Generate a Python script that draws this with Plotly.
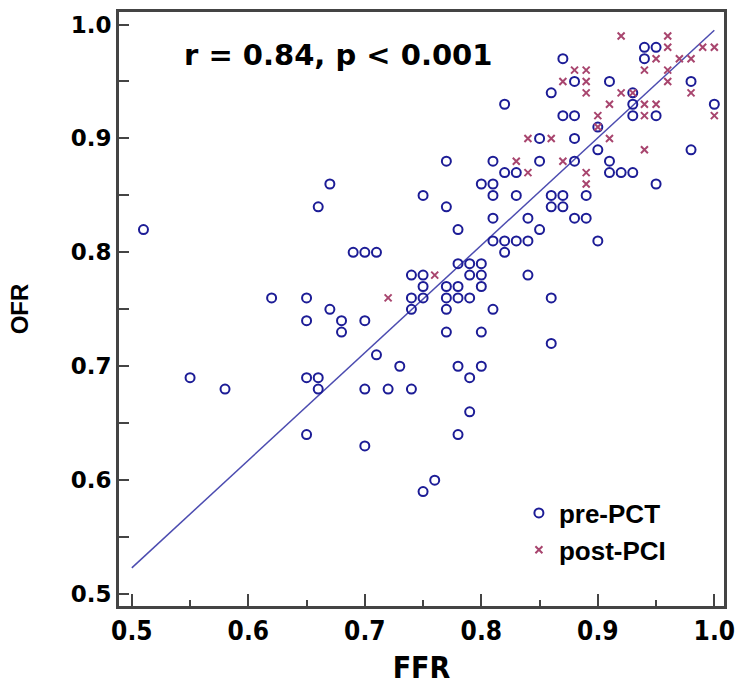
import plotly.graph_objects as go

# pre-PCT (circles)
pre_ffr = [0.51, 0.55, 0.58, 0.62, 0.65, 0.65, 0.65, 0.65, 0.66, 0.66, 0.66, 0.67, 0.67, 0.68, 0.68,
           0.69, 0.70, 0.71, 0.70, 0.70, 0.70, 0.71, 0.72, 0.73, 0.74, 0.74, 0.74, 0.74,
           0.75, 0.75, 0.75, 0.75, 0.75, 0.76, 0.77, 0.77, 0.77, 0.77, 0.77, 0.77,
           0.78, 0.78, 0.78, 0.78, 0.78, 0.78, 0.79, 0.79, 0.79, 0.79, 0.79,
           0.80, 0.80, 0.80, 0.80, 0.80, 0.80, 0.81, 0.81, 0.81, 0.81, 0.81, 0.81,
           0.82, 0.82, 0.82, 0.82, 0.83, 0.83, 0.83, 0.84, 0.84, 0.84, 0.85, 0.85, 0.85,
           0.86, 0.86, 0.86, 0.86, 0.86, 0.87, 0.87, 0.87, 0.87, 0.88, 0.88, 0.88, 0.88, 0.88,
           0.89, 0.89, 0.90, 0.90, 0.90, 0.91, 0.91, 0.91, 0.92, 0.93, 0.93, 0.93, 0.93,
           0.94, 0.94, 0.95, 0.95, 0.95, 0.98, 0.98, 1.00]
pre_ofr = [0.82, 0.69, 0.68, 0.76, 0.76, 0.74, 0.69, 0.64, 0.84, 0.69, 0.68, 0.86, 0.75, 0.74, 0.73,
           0.80, 0.80, 0.80, 0.74, 0.68, 0.63, 0.71, 0.68, 0.70, 0.78, 0.76, 0.75, 0.68,
           0.85, 0.78, 0.77, 0.76, 0.59, 0.60, 0.88, 0.84, 0.77, 0.76, 0.75, 0.73,
           0.82, 0.79, 0.77, 0.76, 0.70, 0.64, 0.79, 0.78, 0.76, 0.69, 0.66,
           0.86, 0.79, 0.78, 0.77, 0.73, 0.70, 0.88, 0.86, 0.85, 0.83, 0.81, 0.75,
           0.93, 0.87, 0.81, 0.80, 0.87, 0.85, 0.81, 0.83, 0.81, 0.78, 0.90, 0.88, 0.82,
           0.94, 0.85, 0.84, 0.76, 0.72, 0.97, 0.92, 0.85, 0.84, 0.95, 0.92, 0.90, 0.88, 0.83,
           0.85, 0.83, 0.91, 0.89, 0.81, 0.95, 0.88, 0.87, 0.87, 0.94, 0.93, 0.92, 0.87,
           0.98, 0.97, 0.98, 0.92, 0.86, 0.95, 0.89, 0.93]

# post-PCI (crosses)
post_ffr = [0.72, 0.76, 0.83, 0.84, 0.84, 0.86, 0.87, 0.87, 0.88, 0.89, 0.89, 0.89, 0.89, 0.89,
            0.90, 0.90, 0.91, 0.91, 0.92, 0.92, 0.93, 0.94, 0.94, 0.94, 0.94, 0.95, 0.95,
            0.96, 0.96, 0.96, 0.96, 0.97, 0.98, 0.98, 0.99, 1.00, 1.00]
post_ofr = [0.76, 0.78, 0.88, 0.90, 0.87, 0.90, 0.95, 0.88, 0.96, 0.96, 0.95, 0.94, 0.87, 0.86,
            0.92, 0.91, 0.93, 0.90, 0.99, 0.94, 0.94, 0.96, 0.93, 0.92, 0.89, 0.97, 0.93,
            0.99, 0.98, 0.96, 0.95, 0.97, 0.97, 0.94, 0.98, 0.98, 0.92]

# regression line endpoints
fit_x = [0.50, 1.00]
fit_y = [0.523, 0.995]

tick_vals = [0.5, 0.6, 0.7, 0.8, 0.9, 1.0]
tick_text = ["0.5", "0.6", "0.7", "0.8", "0.9", "1.0"]
minor_vals = [0.55, 0.65, 0.75, 0.85, 0.95]

BLUE = "#1c1c96"
RED = "#a8456e"
AX = "#444444"
NARROW = "Liberation Sans Narrow, Arial Narrow, DejaVu Sans Condensed, Arial"

fig = go.Figure()
fig.add_trace(go.Scatter(x=fit_x, y=fit_y, mode="lines", showlegend=False,
                         line=dict(color="#4c4cb0", width=1.5), hoverinfo="skip"))
fig.add_trace(go.Scatter(x=pre_ffr, y=pre_ofr, mode="markers", name="pre-PCT",
                         marker=dict(symbol="circle-open", size=9, color=BLUE,
                                     line=dict(width=2, color=BLUE))))
fig.add_trace(go.Scatter(x=post_ffr, y=post_ofr, mode="markers", name="post-PCI",
                         marker=dict(symbol="x-thin-open", size=7, color=RED,
                                     line=dict(width=2, color=RED))))

fig.add_annotation(x=0.104, y=0.9276, xref="paper", yref="paper", xanchor="left", yanchor="middle",
                   text="r = 0.84, p < 0.001", showarrow=False,
                   font=dict(family="DejaVu Sans", size=29, color="black", weight="bold"))

fig.update_layout(
    width=737, height=685,
    margin=dict(l=119, r=13, t=12, b=79),
    paper_bgcolor="white", plot_bgcolor="white",
    showlegend=True,
    legend=dict(x=0.661, y=0.196, xanchor="left", yanchor="top",
                bgcolor="rgba(0,0,0,0)",
                font=dict(family="Arial", size=26, color="black", weight="bold"),
                itemsizing="trace", tracegroupgap=0),
    xaxis=dict(range=[0.489, 1.0083], tickvals=tick_vals, ticktext=tick_text,
               ticks="inside", ticklen=12, tickwidth=2, tickcolor=AX,
               showline=True, linewidth=3, linecolor=AX, mirror=True,
               showgrid=False, zeroline=False, automargin=False,
               minor=dict(tickvals=minor_vals, ticks="inside", ticklen=6, tickwidth=1.5, tickcolor=AX),
               tickfont=dict(family=NARROW, size=26, color="black", weight="bold"),
               title=dict(text="FFR", standoff=13,
                          font=dict(family=NARROW, size=30, color="black", weight="bold"))),
    yaxis=dict(range=[0.4895, 1.011], tickvals=tick_vals, ticktext=tick_text,
               ticks="inside", ticklen=10, tickwidth=2, tickcolor=AX,
               showline=True, linewidth=3, linecolor=AX, mirror=True,
               showgrid=False, zeroline=False, automargin=False,
               minor=dict(tickvals=minor_vals, ticks="inside", ticklen=10, tickwidth=1.5, tickcolor=AX),
               tickfont=dict(family="DejaVu Sans", size=23, color="black", weight="bold"),
               title=dict(text="OFR", standoff=36,
                          font=dict(family="Arial", size=24, color="black", weight="bold"))),
)

fig.write_html("out.html", config={"displayModeBar": False})

# remove default page margin so the figure sits at the window origin
with open("out.html", "r", encoding="utf-8") as f:
    html = f.read()
html = html.replace("<head>", "<head><style>html,body{margin:0;padding:0;}</style>", 1)
with open("out.html", "w", encoding="utf-8") as f:
    f.write(html)
